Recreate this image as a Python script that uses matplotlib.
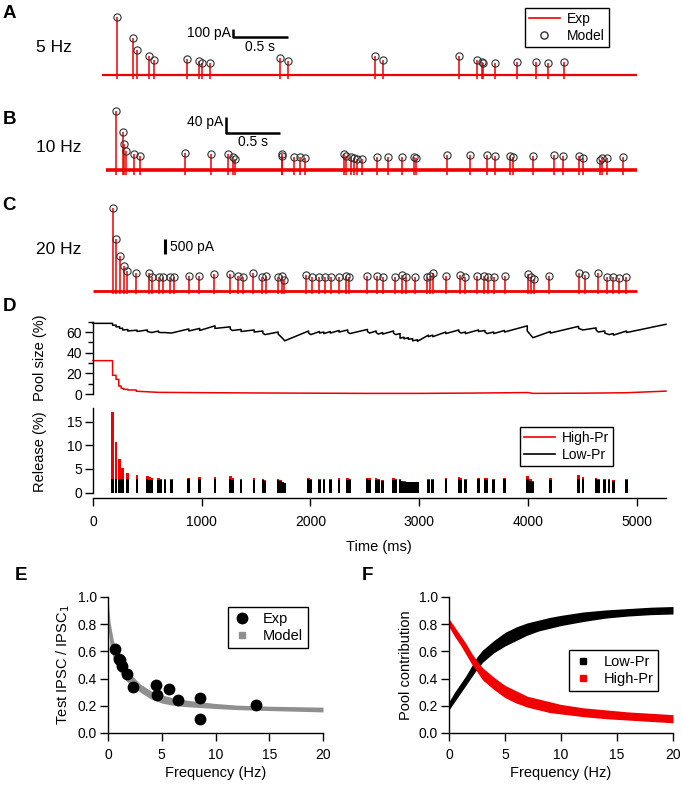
import matplotlib
matplotlib.use("Agg")
import matplotlib.pyplot as plt
from matplotlib.lines import Line2D
from matplotlib.ticker import MultipleLocator, FormatStrFormatter

plt.rcParams["font.family"] = ["Liberation Sans", "DejaVu Sans"]
plt.rcParams["font.size"] = 10
plt.rcParams["axes.linewidth"] = 1.0

RED = "#f00000"

#%% Data

# A: 5 Hz trace (time in ms, amplitude in pA)
a_t = [222, 372, 408, 512, 558, 866, 976, 1004, 1074, 1724, 1795, 2591, 2663,
       3364, 3530, 3576, 3590, 3698, 3898, 4075, 4188, 4335]
a_amp = [729, 466, 313, 241, 188, 196, 175, 154, 146, 209, 175, 238, 188,
         238, 188, 160, 150, 154, 163, 166, 154, 159]

# B: 10 Hz trace
b_t = [213, 272, 289, 305, 381, 429, 849, 1086, 1242, 1290, 1305, 1734, 1742,
       1846, 1902, 1954, 2304, 2331, 2375, 2403, 2431, 2475, 2612, 2716, 2844,
       2952, 2975, 3260, 3468, 3625, 3696, 3833, 3865, 4045, 4237, 4326, 4466,
       4506, 4659, 4678, 4726, 4874]
b_amp = [147, 96, 65, 47, 40, 36, 42, 40, 39, 33, 27, 39, 35,
         33, 32, 31, 39, 35, 32, 29, 27, 28, 33, 33, 33,
         33, 30, 37, 37, 37, 35, 35, 32, 35, 37, 35, 35,
         30, 25, 29, 29, 33]

# C: 20 Hz trace
c_t = [180, 213, 248, 281, 313, 400, 512, 541, 609, 641, 709, 741, 881, 973,
       1113, 1261, 1334, 1382, 1474, 1554, 1594, 1702, 1734, 1754, 1962, 2015,
       2083, 2131, 2190, 2263, 2331, 2355, 2523, 2612, 2663, 2776, 2844, 2876,
       2964, 3072, 3104, 3124, 3244, 3373, 3424, 3536, 3592, 3633, 3684, 3785,
       3997, 4025, 4057, 4197, 4474, 4525, 4646, 4726, 4786, 4834, 4898]
c_amp = [2822, 1758, 1190, 840, 670, 612, 592, 476, 456, 456, 456, 456, 510, 510,
         558, 568, 510, 456, 592, 456, 500, 456, 500, 364, 534, 476,
         456, 456, 456, 456, 500, 456, 510, 500, 456, 476, 534, 456,
         456, 456, 500, 592, 500, 534, 456, 500, 500, 476, 456, 500,
         558, 456, 388, 500, 592, 534, 612, 456, 456, 432, 456]

# D: pool sizes (%)
low_pool_t = [0, 180, 180, 212, 212, 244, 244, 272, 272, 320, 320, 405, 405, 500, 500,
              521, 541, 601, 601, 621, 661, 721, 881, 881, 981, 981, 1122, 1122,
              1262, 1262, 1282, 1362, 1362, 1482, 1482, 1562, 1562, 1582, 1703, 1703,
              1723, 1743, 1763, 1983, 1983, 2003, 2083, 2083, 2123, 2123, 2183, 2183,
              2263, 2263, 2343, 2343, 2363, 2524, 2524, 2544, 2604, 2604, 2624, 2664,
              2664, 2764, 2764, 2784, 2824, 2824, 2860, 2860, 2900, 2900, 2940, 2940,
              2984, 2984, 3085, 3085, 3125, 3125, 3245, 3245, 3365, 3365, 3385, 3425,
              3425, 3545, 3545, 3605, 3605, 3625, 3685, 3685, 3785, 3785, 3994, 3994,
              4026, 4046, 4206, 4206, 4466, 4466, 4506, 4627, 4627, 4647, 4707, 4707,
              4747, 4787, 4787, 4907, 4907, 5270]
low_pool = [68.4, 68.4, 66.5, 66.7, 65.0, 65.2, 63.5, 63.7, 62.0, 62.4, 61.0, 61.8, 60.5, 62.0, 60.5,
            60.0, 59.5, 61.0, 60.0, 59.5, 59.5, 59.0, 63.0, 61.0, 63.5, 61.5, 66.0, 63.5,
            65.0, 63.0, 61.5, 62.5, 60.5, 62.0, 60.0, 61.0, 59.0, 57.5, 60.0, 58.0,
            56.0, 54.0, 51.5, 61.0, 59.0, 57.5, 60.5, 59.0, 60.0, 58.5, 60.5, 59.0,
            61.5, 60.0, 62.0, 60.0, 58.5, 62.5, 60.5, 59.0, 61.0, 59.5, 58.0, 59.5,
            58.0, 61.0, 59.0, 57.5, 58.5, 54.0, 55.0, 53.5, 54.5, 53.0, 53.5, 51.5,
            52.5, 51.0, 57.0, 55.5, 57.0, 55.5, 60.0, 58.5, 62.0, 60.5, 59.0, 60.0,
            58.5, 62.0, 60.5, 61.5, 60.0, 58.5, 60.0, 58.5, 61.5, 60.0, 66.0, 61.0,
            57.0, 54.5, 60.5, 59.0, 65.5, 63.5, 62.0, 64.0, 62.0, 60.0, 61.0, 59.0,
            57.5, 58.5, 57.0, 61.0, 59.5, 67.5]
high_pool_t = [0, 180, 180, 212, 212, 237, 237, 259, 259, 281, 281, 321, 321, 398, 398,
               600, 1000, 1500, 2000, 2500, 3000, 3500, 4000, 4050, 4500, 4900, 5270]
high_pool = [32.3, 32.3, 18.1, 18.1, 14.2, 14.2, 7.7, 7.7, 5.5, 5.5, 4.5, 4.5, 3.9, 3.9, 2.7,
             1.6, 1.3, 1.0, 0.8, 0.6, 0.6, 0.9, 1.4, 0.6, 0.8, 1.2, 2.8]

# D: release (%) per stimulus
rel_t = [180, 212, 244, 272, 320, 405, 500, 521, 541, 601, 621, 661, 721, 881, 981,
         1122, 1262, 1282, 1362, 1482, 1562, 1582, 1703, 1723, 1743, 1763, 1983, 2003,
         2083, 2123, 2183, 2263, 2343, 2363, 2524, 2544, 2604, 2624, 2664, 2764, 2784,
         2824, 2844, 2864, 2884, 2904, 2924, 2944, 2964, 2984, 3085, 3125, 3245, 3365,
         3385, 3425, 3545, 3605, 3625, 3685, 3785, 3994, 4026, 4046, 4206, 4466, 4506,
         4627, 4647, 4707, 4747, 4787, 4907]
rel_low = [2.8, 2.8, 2.8, 2.8, 2.8, 2.8, 2.8, 2.7, 2.6, 2.7, 2.6, 2.6, 2.6, 2.8, 2.8,
           2.8, 2.8, 2.6, 2.6, 2.7, 2.6, 2.5, 2.6, 2.5, 2.2, 2.0, 2.8, 2.7,
           2.7, 2.6, 2.6, 2.7, 2.7, 2.6, 2.8, 2.7, 2.7, 2.6, 2.5, 2.7, 2.6,
           2.6, 2.4, 2.3, 2.2, 2.2, 2.2, 2.2, 2.2, 2.2, 2.6, 2.6, 2.8, 2.8,
           2.7, 2.6, 2.8, 2.8, 2.7, 2.7, 2.8, 2.9, 2.5, 2.3, 2.7, 2.9, 2.8,
           2.8, 2.6, 2.6, 2.6, 2.5, 2.6]
rel_high = [14.2, 7.9, 4.4, 2.5, 1.4, 0.9, 0.8, 0.6, 0.5, 0.3, 0.3, 0.2, 0.2, 0.4, 0.5,
            0.6, 0.7, 0.4, 0.3, 0.3, 0.2, 0.2, 0.3, 0.2, 0.1, 0.1, 0.4, 0.2,
            0.2, 0.2, 0.2, 0.3, 0.3, 0.2, 0.4, 0.3, 0.3, 0.2, 0.2, 0.3, 0.3,
            0.2, 0.1, 0.1, 0.1, 0.1, 0.1, 0.1, 0.1, 0.1, 0.2, 0.2, 0.3, 0.5,
            0.3, 0.3, 0.3, 0.3, 0.3, 0.2, 0.3, 0.6, 0.3, 0.2, 0.4, 0.8, 0.5,
            0.4, 0.3, 0.3, 0.3, 0.2, 0.2]

# E: paired-pulse ratio vs frequency
e_exp_f = [0.62, 0.99, 1.15, 1.30, 1.80, 2.33, 4.50, 4.59, 5.64, 6.51, 8.59, 8.59, 13.74]
e_exp_y = [0.616, 0.542, 0.537, 0.493, 0.433, 0.337, 0.350, 0.278, 0.323, 0.246, 0.259, 0.101, 0.209]
e_mod_f = [0, 0.2, 0.5, 1, 1.5, 2, 2.5, 3, 4, 5, 6, 7, 8, 10, 12, 15, 20]
e_mod_lo = [0.78, 0.64, 0.54, 0.46, 0.40, 0.36, 0.33, 0.30, 0.25, 0.22, 0.205, 0.195, 0.19, 0.18, 0.172, 0.165, 0.155]
e_mod_hi = [0.98, 0.81, 0.68, 0.56, 0.49, 0.44, 0.40, 0.36, 0.31, 0.28, 0.26, 0.245, 0.235, 0.217, 0.205, 0.197, 0.19]

# F: pool contribution vs frequency
f_f = [0, 0.5, 1, 1.5, 2, 2.5, 3, 4, 5, 6, 7, 8, 9, 10, 12, 14, 16, 18, 20]
f_low_lo = [0.17, 0.23, 0.29, 0.35, 0.41, 0.47, 0.52, 0.59, 0.64, 0.68, 0.72, 0.75, 0.77, 0.79, 0.82, 0.845, 0.86, 0.87, 0.875]
f_low_hi = [0.23, 0.30, 0.36, 0.42, 0.49, 0.56, 0.61, 0.68, 0.74, 0.78, 0.81, 0.83, 0.85, 0.865, 0.89, 0.905, 0.915, 0.925, 0.93]
f_high_lo = [0.78, 0.71, 0.65, 0.58, 0.51, 0.45, 0.39, 0.32, 0.26, 0.22, 0.19, 0.17, 0.15, 0.14, 0.12, 0.105, 0.095, 0.085, 0.075]
f_high_hi = [0.84, 0.78, 0.72, 0.66, 0.59, 0.53, 0.48, 0.41, 0.35, 0.31, 0.27, 0.25, 0.23, 0.21, 0.185, 0.17, 0.155, 0.145, 0.135]

#%% Figure

W, H = 682, 789
fig = plt.figure(figsize=(W / 100, H / 100), dpi=100)


def box(left, top, right, bottom):
    # figure pixels -> axes rect
    return [left / W, 1 - bottom / H, (right - left) / W, (bottom - top) / H]


def ftext(x, y, s, **kw):
    fig.text(x / W, 1 - y / H, s, **kw)


TMAX = 5270


def trace_axes(rect, ylim):
    ax = fig.add_axes(rect)
    ax.set_xlim(0, TMAX)
    ax.set_ylim(*ylim)
    ax.axis("off")
    return ax


def draw_trace(ax, t0, t1, times, amps, neg, lw_base):
    ax.plot([t0, t1], [0, 0], color=RED, lw=lw_base, solid_capstyle="butt")
    ax.vlines(times, neg, amps, color=RED, lw=1.1)
    ax.plot(times, amps, "o", mfc="none", mec="#303030", ms=5.2, mew=0.8)


# A
axA = trace_axes(box(93, 5, 666, 90), (-187.5, 875))
draw_trace(axA, 86, 5000, a_t, a_amp, -45, 1.6)
axA.plot([1290, 1290, 1790], [575, 475, 475], color="k", lw=1.8, solid_capstyle="butt")
axA.text(1270, 531, "100 pA", ha="right", va="center", fontsize=10)
axA.text(1540, 350, "0.5 s", ha="center", va="center", fontsize=10)
axA.legend(handles=[Line2D([], [], color=RED, lw=1.2),
                    Line2D([], [], ls="none", marker="o", mfc="none", mec="#303030", ms=5.2)],
           labels=["Exp", "Model"], loc="upper left",
           bbox_to_anchor=(525 / W, 1 - 8 / H), bbox_transform=fig.transFigure,
           fancybox=False, edgecolor="k", framealpha=1, fontsize=10,
           borderaxespad=0, handlelength=2.2, borderpad=0.3, labelspacing=0.2,
           handletextpad=0.5)

# B
axB = trace_axes(box(93, 95, 666, 190), (-50, 187.5))
draw_trace(axB, 120, 5007, b_t, b_amp, -12, 2.6)
axB.plot([1222, 1222, 1722], [133, 93, 93], color="k", lw=1.8, solid_capstyle="butt")
axB.text(1200, 119, "40 pA", ha="right", va="center", fontsize=10)
axB.text(1470, 70, "0.5 s", ha="center", va="center", fontsize=10)

# C
axC = trace_axes(box(93, 195, 666, 305), (-486, 3254))
draw_trace(axC, 0, 5007, c_t, c_amp, -120, 2.0)
axC.plot([660, 660], [1248, 1748], color="k", lw=2.2, solid_capstyle="butt")
axC.text(705, 1476, "500 pA", ha="left", va="center", fontsize=10)

ftext(36, 47, "5 Hz", ha="left", va="center", fontsize=12.5)
ftext(36, 148, "10 Hz", ha="left", va="center", fontsize=12.5)
ftext(36, 250, "20 Hz", ha="left", va="center", fontsize=12.5)


def style_axes(ax):
    for s in ["top", "right"]:
        ax.spines[s].set_visible(False)
    ax.tick_params(direction="out", length=6, width=1, labelsize=10, pad=2)
    ax.tick_params(which="minor", direction="out", length=3.5, width=1)


# D pool size
axP = fig.add_axes(box(93, 321.7, 666, 394))
style_axes(axP)
axP.spines["bottom"].set_visible(False)
axP.set_xlim(0, TMAX)
axP.set_ylim(0, 70)
axP.set_xticks([])
axP.set_yticks([0, 20, 40, 60])
axP.yaxis.set_minor_locator(MultipleLocator(10))
axP.plot(low_pool_t, low_pool, color="k", lw=1.1, clip_on=False)
axP.plot(high_pool_t, high_pool, color=RED, lw=1.1, clip_on=False)

# D release
axR = fig.add_axes(box(93, 408.3, 666, 492.7))
style_axes(axR)
axR.spines["bottom"].set_position(("outward", 4))
axR.set_xlim(0, TMAX)
axR.set_ylim(0, 17.8)
axR.set_yticks([0, 5, 10, 15])
axR.set_xticks([0, 1000, 2000, 3000, 4000, 5000])
axR.tick_params(axis="x", pad=6)
axR.bar(rel_t, rel_low, width=24, color="k", align="center")
axR.bar(rel_t, rel_high, width=24, bottom=rel_low, color=RED, align="center")
axR.legend(handles=[Line2D([], [], color=RED, lw=1.2), Line2D([], [], color="k", lw=1.2)],
           labels=["High-Pr", "Low-Pr"], loc="upper left",
           bbox_to_anchor=(520 / W, 1 - 427 / H), bbox_transform=fig.transFigure,
           fancybox=False, edgecolor="k", framealpha=1, fontsize=10,
           borderaxespad=0, handlelength=2.2, borderpad=0.3, labelspacing=0.2,
           handletextpad=0.5)

ftext(40, 358, "Pool size (%)", rotation=90, ha="center", va="center", fontsize=10.5)
ftext(40, 452, "Release (%)", rotation=90, ha="center", va="center", fontsize=10.5)
ftext(379, 547, "Time (ms)", ha="center", va="center", fontsize=10.5)

# E
axE = fig.add_axes(box(108, 597, 323, 733))
style_axes(axE)
axE.set_xlim(0, 20)
axE.set_ylim(0, 1)
axE.set_xticks([0, 5, 10, 15, 20])
axE.set_yticks([0, 0.2, 0.4, 0.6, 0.8, 1.0])
axE.yaxis.set_major_formatter(FormatStrFormatter("%.1f"))
axE.tick_params(axis="x", pad=5)
axE.fill_between(e_mod_f, e_mod_lo, e_mod_hi, color="#8f8f8f", lw=0)
axE.plot(e_exp_f, e_exp_y, "o", color="k", ms=7.5, ls="none", clip_on=False)
axE.set_xlabel("Frequency (Hz)", fontsize=10.5, labelpad=3)
axE.set_ylabel("Test IPSC / IPSC$_1$", fontsize=10.5, labelpad=4)
axE.legend(handles=[Line2D([], [], ls="none", marker="o", color="k", ms=7.5),
                    Line2D([], [], ls="none", marker="s", color="#8f8f8f", ms=4.5)],
           labels=["Exp", "Model"], loc="upper left",
           bbox_to_anchor=(228 / W, 1 - 607 / H), bbox_transform=fig.transFigure,
           fancybox=False, edgecolor="k", framealpha=1, fontsize=10.5,
           borderaxespad=0, handlelength=1.2, borderpad=0.35, labelspacing=0.2,
           handletextpad=0.8)

# F
axF = fig.add_axes(box(449, 597, 673, 733))
style_axes(axF)
axF.set_xlim(0, 20)
axF.set_ylim(0, 1)
axF.set_xticks([0, 5, 10, 15, 20])
axF.set_yticks([0, 0.2, 0.4, 0.6, 0.8, 1.0])
axF.yaxis.set_major_formatter(FormatStrFormatter("%.1f"))
axF.tick_params(axis="x", pad=5)
axF.fill_between(f_f, f_low_lo, f_low_hi, color="k", lw=0)
axF.fill_between(f_f, f_high_lo, f_high_hi, color=RED, lw=0)
axF.set_xlabel("Frequency (Hz)", fontsize=10.5, labelpad=3)
axF.set_ylabel("Pool contribution", fontsize=10.5, labelpad=4)
axF.legend(handles=[Line2D([], [], ls="none", marker="s", color="k", ms=4),
                    Line2D([], [], ls="none", marker="s", color=RED, ms=4)],
           labels=["Low-Pr", "High-Pr"], loc="upper left",
           bbox_to_anchor=(569 / W, 1 - 650 / H), bbox_transform=fig.transFigure,
           fancybox=False, edgecolor="k", framealpha=1, fontsize=10.5,
           borderaxespad=0, handlelength=1.2, borderpad=0.35, labelspacing=0.2,
           handletextpad=0.8)

# panel letters
for lab, x, y in [("A", 9.5, 13.5), ("B", 9, 120), ("C", 9, 206), ("D", 9.5, 306.5),
                  ("E", 21.5, 575), ("F", 367.5, 575)]:
    ftext(x, y, lab, ha="center", va="center", fontsize=13.5, fontweight="bold")

fig.savefig("out.png", dpi=100)
